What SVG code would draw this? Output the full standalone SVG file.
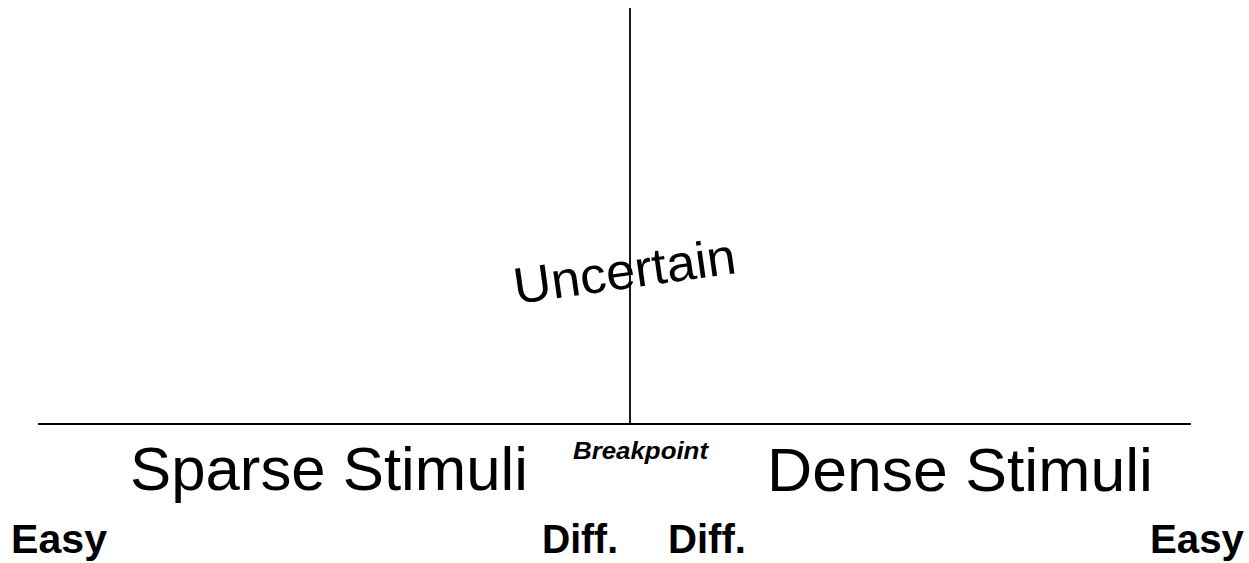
<svg xmlns="http://www.w3.org/2000/svg" width="1249" height="563" viewBox="0 0 1249 563">
<style>
.ax{stroke:#000;stroke-width:1.8;fill:none}
.t{font-family:"Liberation Sans",Arial,sans-serif;fill:#000}
.big{font-size:61px}
.b{font-weight:bold;font-size:40px}
.bp{font-weight:bold;font-style:italic;font-size:24px}
</style>
<rect width="1249" height="563" fill="#fff"/>
<g id="connectors">
<line class="ax" x1="630" y1="8" x2="630" y2="424"/>
<line class="ax" x1="38" y1="424" x2="1191" y2="424"/>
</g>
<g id="uncertain"><text class="t" x="516" y="304" font-size="51" textLength="224" lengthAdjust="spacingAndGlyphs" transform="rotate(-8 516 304)">Uncertain</text></g>
<g id="sparse"><text class="t big" x="130" y="490" textLength="398" lengthAdjust="spacingAndGlyphs">Sparse Stimuli</text></g>
<g id="dense"><text class="t big" x="767" y="491" textLength="386" lengthAdjust="spacingAndGlyphs">Dense Stimuli</text></g>
<g id="breakpoint"><text class="t bp" x="573" y="459" textLength="135" lengthAdjust="spacingAndGlyphs">Breakpoint</text></g>
<g id="easy-left"><text class="t b" x="11" y="553" textLength="96" lengthAdjust="spacingAndGlyphs">Easy</text></g>
<g id="diff-left"><text class="t b" x="542" y="553" textLength="76" lengthAdjust="spacingAndGlyphs">Diff.</text></g>
<g id="diff-right"><text class="t b" x="668" y="553" textLength="78" lengthAdjust="spacingAndGlyphs">Diff.</text></g>
<g id="easy-right"><text class="t b" x="1150" y="553" textLength="94" lengthAdjust="spacingAndGlyphs">Easy</text></g>
</svg>
